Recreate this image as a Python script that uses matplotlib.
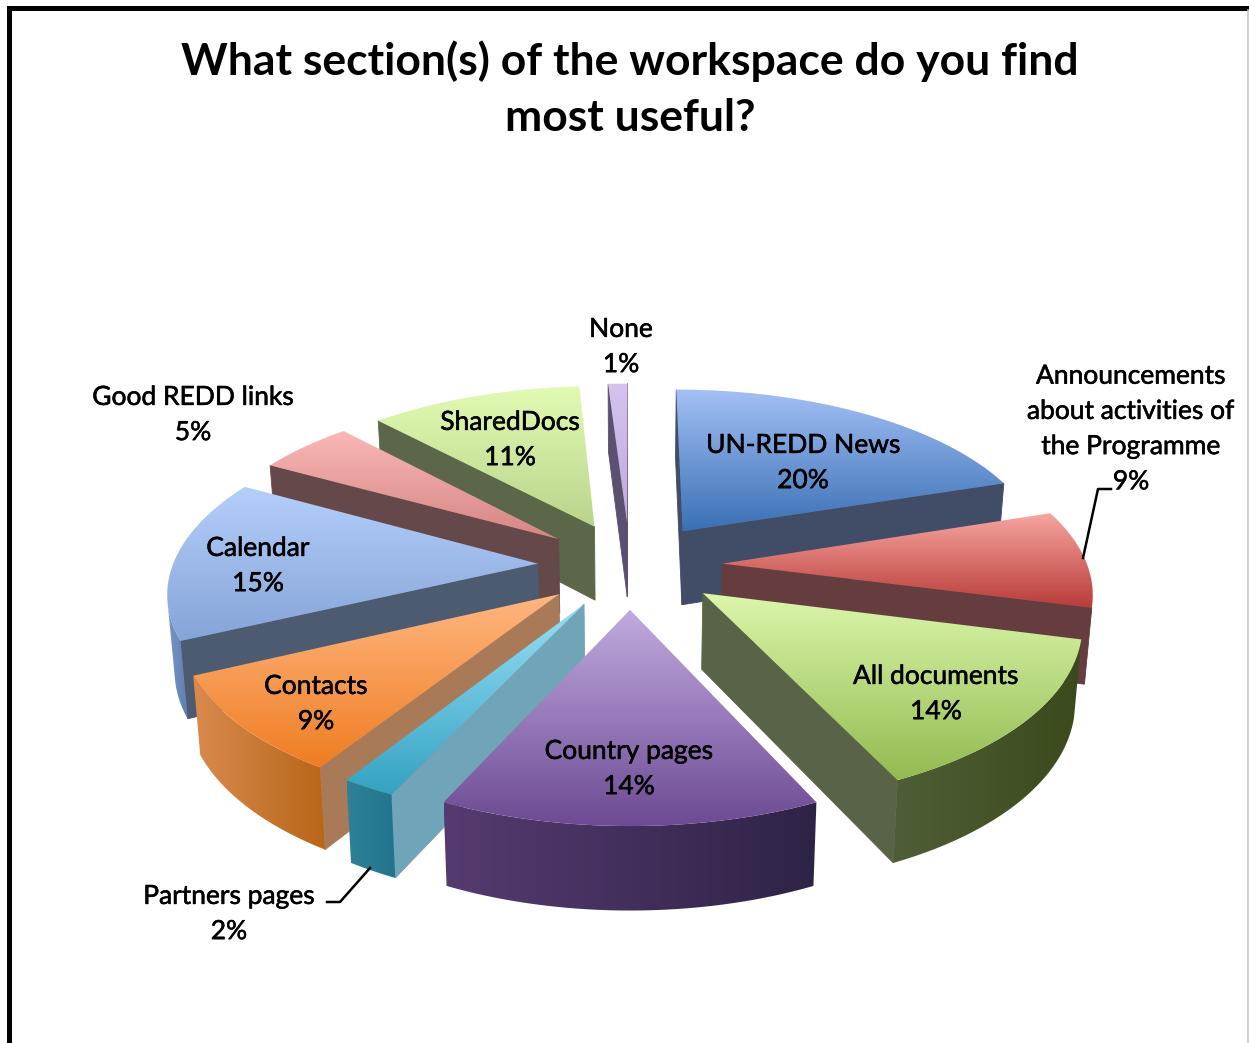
#!/usr/bin/env python
"""
Exploded 3D pie of workspace survey answers, drawn by hand with a small perspective projection.
"""
import numpy as np
import matplotlib; matplotlib.use('Agg')
import matplotlib.pyplot as plt
import matplotlib.patheffects as pe
from matplotlib.patches import Polygon

plt.rcParams['font.family'] = ['Lato', 'DejaVu Sans']

TITLE = "What section(s) of the workspace do you find\nmost useful?"
LABELS = ['UN-REDD News', 'Announcements\nabout activities of\nthe Programme', 'All documents',
          'Country pages', 'Partners pages', 'Contacts', 'Calendar', 'Good REDD links',
          'SharedDocs', 'None']
VALUES = [20, 9, 14, 14, 2, 9, 15, 5, 11, 1]

# label centres in pixels
LABEL_POS = [(803, 463), (1131, 429), (936, 694), (629, 769), (229, 914),
             (316, 704), (258, 566), (193, 415), (510, 440), (621, 347)]

# top surface gradient (upper, lower), radial wall, outer wall (left, right)
TOP_COLS = [('#a3c0f5', '#3a70b5'), ('#f7a5a0', '#b93b38'), ('#dcf6ab', '#93ba50'),
            ('#c0abdf', '#6d4a94'), ('#98dff6', '#33a2c2'), ('#ffb680', '#ef7d22'),
            ('#b5cffb', '#85a4d8'), ('#fab8b6', '#d58683'), ('#e2fbb4', '#b9d48a'),
            ('#d5c3ee', '#bfaadd')]
WALL_COLS = ['#414c66', '#653d3e', '#586445', '#523a6a', '#70a4b8', '#a97a58',
             '#4d5b70', '#654849', '#5c6749', '#5b5070']
OUTER_COLS = [('#414c66', '#414c66'), ('#653d3e', '#5e3839'), ('#4f5e36', '#3b4a1c'),
              ('#563b70', '#2e2347'), ('#2d8198', '#22758c'), ('#da8a4e', '#b86618'),
              ('#7a96c8', '#5f7db0'), ('#654849', '#654849'), ('#5c6749', '#5c6749'),
              ('#5b5070', '#5b5070')]

# projection settings, all in pixels of the 1249x1043 canvas
CX, CY = 630, 565
RAD = 365
TILT = 0.468
PERSP = 0.1437
EXPLODE = 0.253
DEPTH = 75
SHRINK = 0.016

def project(u, v, h=0.0):
    s = 1 / (1 - PERSP * v)
    return np.column_stack((CX + RAD * u * s * (1 - SHRINK * h),
                            CY + RAD * TILT * v * s + h * DEPTH * s ** 0.6))

def shoelace(q):
    x, y = q[:, 0], q[:, 1]
    return np.sum(x * np.roll(y, -1) - np.roll(x, -1) * y)

def mix(c1, c2, t):
    return (1 - t) * np.array(matplotlib.colors.to_rgb(c1)) + t * np.array(matplotlib.colors.to_rgb(c2))

def face(ax, quad, col, z):
    ax.add_patch(Polygon(quad, closed=True, facecolor=col, edgecolor=col, lw=0.6, zorder=z))

def gradient_fill(ax, outline, c1, c2, z, horizontal=False):
    ramp = np.array([mix(c1, c2, t) for t in np.linspace(0, 1, 256)])
    img = ramp.reshape(1, 256, 3) if horizontal else ramp.reshape(256, 1, 3)
    im = ax.imshow(img, extent=(outline[:, 0].min(), outline[:, 0].max(),
                                outline[:, 1].max(), outline[:, 1].min()),
                   aspect='auto', zorder=z, interpolation='bilinear')
    im.set_clip_path(Polygon(outline, closed=True, transform=ax.transData))

def draw_slice(ax, i, a1, a2, z):
    mid = (a1 + a2) / 2
    ox, oy = EXPLODE * np.sin(mid), -EXPLODE * np.cos(mid)
    th = np.linspace(a1, a2, max(int(np.degrees(a2 - a1) * 2), 3))
    us, vs = ox + np.sin(th), oy - np.cos(th)
    apex_u, apex_v = np.array([ox]), np.array([oy])

    top_arc, bot_arc = project(us, vs), project(us, vs, 1)
    apex_top, apex_bot = project(apex_u, apex_v), project(apex_u, apex_v, 1)

    # the two cut faces, kept only when they turn towards the viewer
    for quad in (np.vstack((apex_top, top_arc[0], bot_arc[0], apex_bot)),
                 np.vstack((top_arc[-1], apex_top, apex_bot, bot_arc[-1]))):
        if shoelace(quad) < 0:
            face(ax, quad, WALL_COLS[i], z)

    # rim: only the part of the arc that faces the viewer, shaded left to right
    keep = [k for k in range(len(th) - 1)
            if shoelace(np.vstack((top_arc[k], top_arc[k + 1], bot_arc[k + 1], bot_arc[k]))) < 0]
    if keep:
        idx = np.arange(keep[0], keep[-1] + 2)
        rim = np.vstack((top_arc[idx], bot_arc[idx][::-1]))
        gradient_fill(ax, rim, OUTER_COLS[i][0], OUTER_COLS[i][1], z + 1, horizontal=True)

    # top surface with a vertical gradient
    gradient_fill(ax, np.vstack((apex_top, top_arc)), TOP_COLS[i][0], TOP_COLS[i][1], z + 2)

def main():
    fig = plt.figure(figsize=(12.49, 10.43), dpi=100)
    ax = fig.add_axes([0, 0, 1, 1])

    # slices start at twelve o'clock and run clockwise
    edges = np.radians(np.concatenate(([0], np.cumsum(VALUES))) * 3.6)
    mids = (edges[:-1] + edges[1:]) / 2
    order = np.argsort(-np.cos(mids))  # far slices first
    for rank, i in enumerate(order):
        draw_slice(ax, i, edges[i], edges[i + 1], 10 + rank * 3)

    ax.set_xlim(0, 1249); ax.set_ylim(1043, 0)
    ax.axis('off')

    # slide frame
    ax.plot([9, 9, 1249], [1043, 8, 8], color='black', lw=3.6, solid_joinstyle='miter', zorder=50)
    ax.plot([1248, 1248], [10, 1043], color='#c8c8c8', lw=1.2, zorder=50)

    ax.text(630, 89, TITLE, ha='center', va='center', fontsize=32, fontweight='bold',
            linespacing=1.5, zorder=60)
    thick = [pe.withStroke(linewidth=0.4, foreground='black')]
    for name, val, (x, y) in zip(LABELS, VALUES, LABEL_POS):
        ax.text(x, y, f"{name}\n{val}%", ha='center', va='center', fontsize=19,
                linespacing=1.51, zorder=60, path_effects=thick)

    # leader lines for the two labels sitting outside their slices
    ax.plot([1111, 1098, 1083], [489, 489, 558], color='black', lw=1.8, zorder=55)
    ax.plot([327, 340, 370], [902, 902, 868], color='black', lw=1.8, zorder=55)

    fig.savefig('out.png', dpi=100)
    plt.close(fig)

if __name__ == '__main__':
    main()
